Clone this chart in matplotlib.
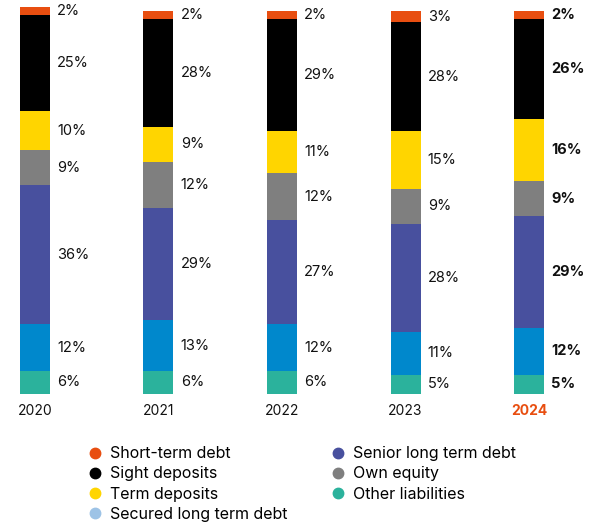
import matplotlib.pyplot as plt
from matplotlib.lines import Line2D
import numpy as np

plt.rcParams['font.family'] = ['Inter', 'DejaVu Sans']

years = ["2020", "2021", "2022", "2023", "2024"]
# bottom -> top
other_liab = [6, 6, 6, 5, 5]
secured_lt = [12, 13, 12, 11, 12]
senior_lt = [36, 29, 27, 28, 29]
own_equity = [9, 12, 12, 9, 9]
term_dep = [10, 9, 11, 15, 16]
sight_dep = [25, 28, 29, 28, 26]
short_term = [2, 2, 2, 3, 2]

layers = [other_liab, secured_lt, senior_lt, own_equity, term_dep, sight_dep, short_term]
colors = ["#2BB29C", "#0088CC", "#48509E", "#7F7F7F", "#FFD500", "#000000", "#E84E10"]

fig = plt.figure(figsize=(5.97, 5.25), dpi=100)
ax = fig.add_axes([0, 0.2495, 1, 0.7505])

x = np.arange(len(years))
bottom = np.zeros(len(years))
for vals, c in zip(layers, colors):
    vals = np.array(vals, dtype=float)
    ax.bar(x, vals, bottom=bottom, width=0.243, color=c, linewidth=0)
    for i in range(len(years)):
        ax.text(x[i] + 0.18, bottom[i] + vals[i] / 2, f"{int(vals[i])}%",
                ha="left", va="center", fontsize=10.5, color="#111111",
                fontweight="bold" if i == len(years) - 1 else "normal")
    bottom += vals

ax.set_xlim(-0.283, 4.55)
ax.set_ylim(0, 101.8)
ax.set_xticks(x)
ax.set_xticklabels(years, fontsize=10)
for lbl in ax.get_xticklabels():
    lbl.set_color("#111111")
ax.get_xticklabels()[-1].set_color("#E84E10")
ax.get_xticklabels()[-1].set_fontweight("bold")
ax.tick_params(axis="x", length=0, pad=7)
ax.set_yticks([])
for s in ax.spines.values():
    s.set_visible(False)

leg_names = ["Short-term debt", "Sight deposits", "Term deposits", "Secured long term debt",
             "Senior long term debt", "Own equity", "Other liabilities"]
leg_colors = ["#E84E10", "#000000", "#FFD500", "#9DC3E6", "#48509E", "#7F7F7F", "#2BB29C"]
handles = [Line2D([], [], marker="o", linestyle="", markersize=7.5, color=c) for c in leg_colors]
fig.legend(handles, leg_names, ncol=2, loc="upper left", bbox_to_anchor=(0.135, 0.165),
           frameon=False, fontsize=11.5, handletextpad=0.55, columnspacing=2.75,
           labelspacing=0.32, borderpad=0, handlelength=0.8)

plt.savefig("out.png", dpi=100)
